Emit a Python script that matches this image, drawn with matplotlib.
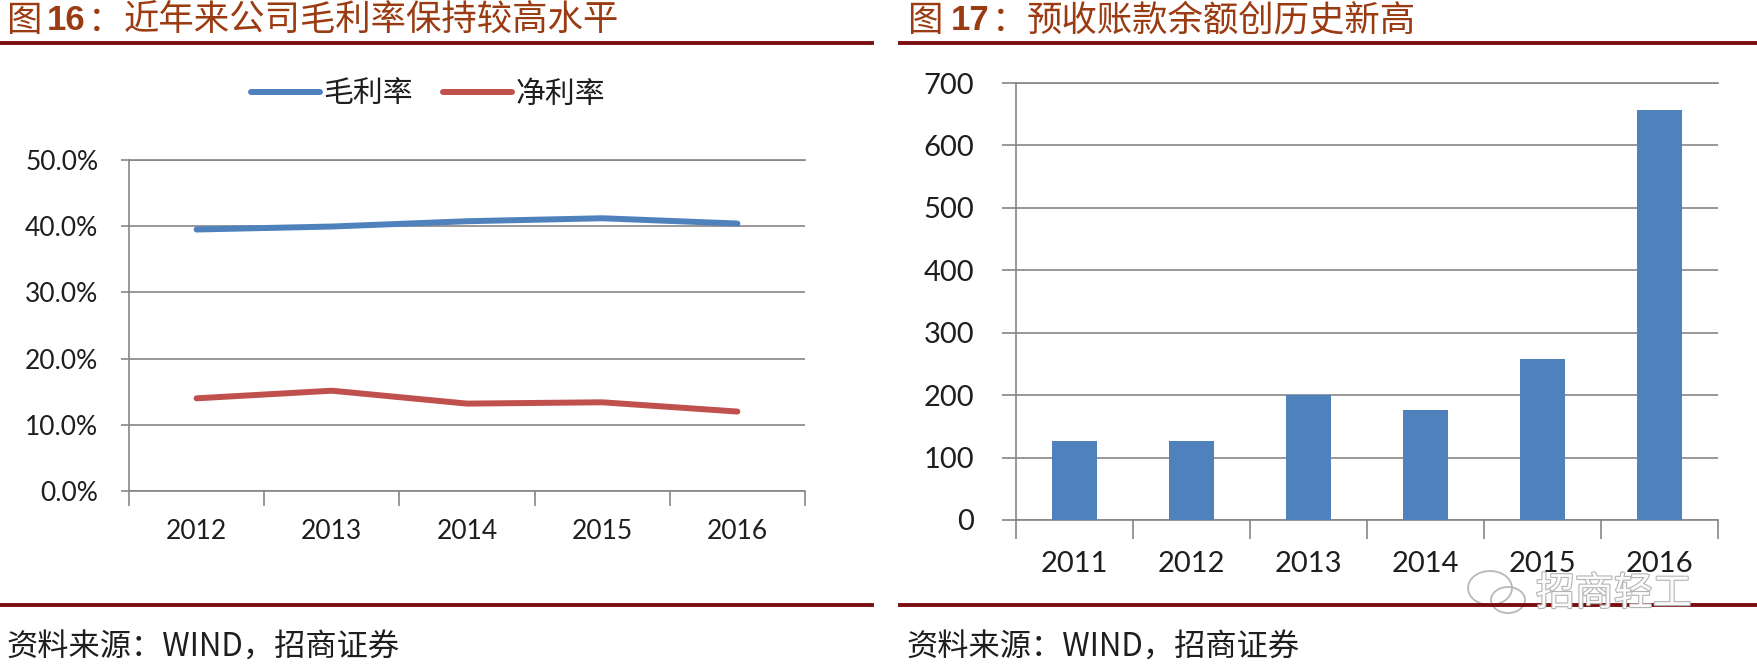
import matplotlib
matplotlib.use('Agg')
import matplotlib.pyplot as plt
from matplotlib.lines import Line2D
from matplotlib.patches import Ellipse
from matplotlib.ticker import FuncFormatter, FixedLocator
import matplotlib.patheffects as pe

# ---------------- data ----------------
margin_years = ['2012', '2013', '2014', '2015', '2016']
gross_margin = [39.5, 39.95, 40.75, 41.2, 40.4]   # 毛利率 (%)
net_margin = [14.0, 15.15, 13.2, 13.4, 12.0]      # 净利率 (%)

adv_years = ['2011', '2012', '2013', '2014', '2015', '2016']
advance_receipts = [127, 127, 200, 177, 258, 656]  # 预收账款

left_title_rest = '近年来公司毛利率保持较高水平'
right_title_rest = '预收账款余额创历史新高'
source_text = '资料来源：WIND，招商证券'

# ---------------- style ----------------
CJK = ['Noto Sans CJK SC', 'DejaVu Sans']
NUM = ['Lato', 'DejaVu Sans']
BLUE = '#4F81BD'
RED = '#C0504D'
GRID = '#868686'
TITLE_C = '#9A3B12'
RULE_C = '#7A0E0E'
TXT = '#1E1E1E'

W, H = 1758, 671
fig = plt.figure(figsize=(W / 100, H / 100), dpi=100)
fig.patch.set_facecolor('white')


def fx(px):
    return px / W


def fy(py):
    return 1 - py / H


def style_axes(ax, n, ylen, xlen, lab_size, ypad, xpad):
    ax.set_xlim(-0.5, n - 0.5)
    ax.spines['right'].set_visible(False)
    for s in ['left', 'bottom', 'top']:
        ax.spines[s].set_color(GRID)
        ax.spines[s].set_linewidth(1.2)
    ax.yaxis.grid(True, color=GRID, lw=1.2)
    ax.set_axisbelow(True)
    ax.tick_params(axis='y', length=ylen, width=1.2, color=GRID, pad=ypad,
                   labelsize=lab_size, labelcolor=TXT)
    ax.tick_params(axis='x', which='major', length=0, pad=xpad,
                   labelsize=lab_size, labelcolor=TXT)
    ax.xaxis.set_minor_locator(FixedLocator([i - 0.5 for i in range(n + 1)]))
    ax.tick_params(axis='x', which='minor', length=xlen, width=1.2, color=GRID)
    for lab in ax.get_xticklabels() + ax.get_yticklabels():
        lab.set_family(NUM)


# ---------------- left chart ----------------
ax1 = fig.add_axes([fx(129), fy(491), fx(805 - 129), (491 - 160) / H])
xs1 = range(len(margin_years))
l1, = ax1.plot(xs1, gross_margin, color=BLUE, lw=4.3, solid_capstyle='round',
               solid_joinstyle='round', label='毛利率')
l2, = ax1.plot(xs1, net_margin, color=RED, lw=4.3, solid_capstyle='round',
               solid_joinstyle='round', label='净利率')
ax1.set_ylim(0, 50)
ax1.set_yticks([0, 10, 20, 30, 40, 50])
ax1.yaxis.set_major_formatter(FuncFormatter(lambda v, p: f'{v:.1f}%'))
ax1.set_xticks(list(xs1))
ax1.set_xticklabels(margin_years)
style_axes(ax1, len(margin_years), 6, 11, 19, 16, 20)

leg = ax1.legend(handles=[l1, l2], loc='center', bbox_to_anchor=(fx(428), fy(94)),
                 bbox_transform=fig.transFigure, ncol=2, frameon=False,
                 prop={'family': CJK, 'size': 21.5}, handlelength=2.3,
                 handletextpad=0.12, columnspacing=1.0)
for t in leg.get_texts():
    t.set_color(TXT)

# ---------------- right chart ----------------
ax2 = fig.add_axes([fx(1016), fy(520), fx(1718 - 1016), (520 - 83) / H])
xs2 = range(len(adv_years))
ax2.bar(xs2, advance_receipts, width=0.39, color=BLUE, zorder=3)
ax2.set_ylim(0, 700)
ax2.set_yticks(range(0, 701, 100))
ax2.set_xticks(list(xs2))
ax2.set_xticklabels(adv_years)
style_axes(ax2, len(adv_years), 10, 13.5, 21, 20, 22)

# ---------------- titles ----------------
def put_title(parts, y):
    for x, s, kw in parts:
        fig.text(fx(x), fy(y), s, ha='left', va='center', color=TITLE_C, **kw)

put_title([
    (6, '图', dict(family=CJK, size=25.5)),
    (47, '16', dict(family=['Liberation Sans', 'DejaVu Sans'], size=25, weight='bold')),
    (88, '：', dict(family=CJK, size=25.5)),
    (124, left_title_rest, dict(family=CJK, size=25.5)),
], 21)
put_title([
    (907, '图', dict(family=CJK, size=25.5)),
    (951, '17', dict(family=['Liberation Sans', 'DejaVu Sans'], size=25, weight='bold')),
    (992, '：', dict(family=CJK, size=25.5)),
    (1027, right_title_rest, dict(family=CJK, size=25.5)),
], 21)

# rules
for (x0, x1) in [(0, 872), (900, 1758)]:
    for yy in (43, 605):
        fig.add_artist(Line2D([fx(x0), fx(x1)], [fy(yy), fy(yy)], transform=fig.transFigure,
                              color=RULE_C, lw=2.8))

# source
fig.text(fx(6), fy(648), source_text, ha='left', va='center', family=CJK, size=22.5, color=TXT)
fig.text(fx(906), fy(648), source_text, ha='left', va='center', family=CJK, size=22.5, color=TXT)

# watermark
wm = fig.text(fx(1536), fy(594), '招商轻工', ha='left', va='center', family=CJK, size=28,
              color='white', alpha=0.95)
wm.set_path_effects([pe.withStroke(linewidth=1.6, foreground='#B0B0B0')])
fig.add_artist(Ellipse((fx(1490), fy(588)), fx(44), 34 / H, transform=fig.transFigure,
                       fill=False, edgecolor='#B8B8B8', lw=1.3))
fig.add_artist(Ellipse((fx(1508), fy(600)), fx(34), 26 / H, transform=fig.transFigure,
                       fill=False, edgecolor='#B8B8B8', lw=1.3))

fig.savefig('out.png', dpi=100, facecolor='white')
